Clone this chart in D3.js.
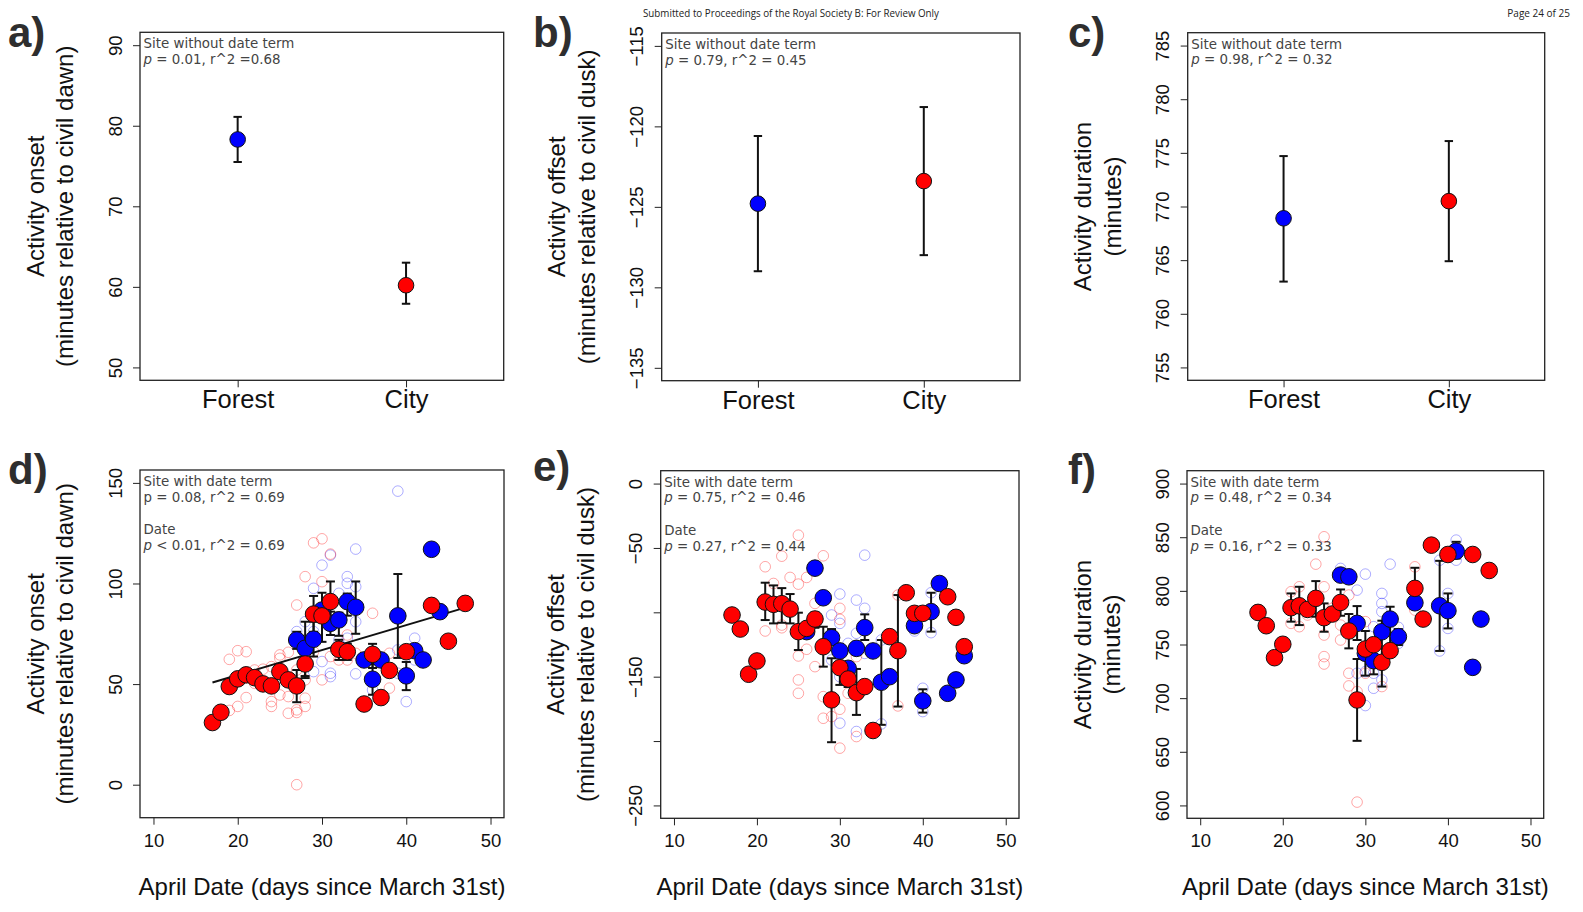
<!DOCTYPE html>
<html>
<head>
<meta charset="utf-8">
<script src="https://cdn.jsdelivr.net/npm/d3@7"></script>
<style>
  body { margin: 0; background: #fff; }
  svg { display: block; }
</style>
</head>
<body>
<svg id="fig" width="1583" height="912"></svg>
<script>
// ---------- data ----------
const sites = ["Forest", "City"];

// panels a-c : site means (+/- error)
const onsetSiteMean = [78.3, 60.2];
const onsetSiteLo = [75.5, 57.9];
const onsetSiteHi = [81.1, 63.0];
const offsetSiteMean = [-124.8, -123.4];
const offsetSiteLo = [-129.0, -128.0];
const offsetSiteHi = [-120.6, -118.8];
const durationSiteMean = [768.9, 770.5];
const durationSiteLo = [763.0, 764.9];
const durationSiteHi = [774.7, 776.1];

// panel d : activity onset by date  [day, minutes]
const onsetForestMean = [[27,71.9],[28,67.8],[29,72.3],[30,86.8],[31,80.2],[32,81.9],[33,91.0],[34,88.2],[35,62.0],[36,52.4],[37,62.0],[39,83.9],[40,54.1],[41,66.6],[42,62.0],[43,117.0],[44,86.0]];
const onsetCityMean = [[17,30.9],[18,36.0],[19,48.8],[20,52.6],[21,54.6],[22,53.2],[23,50.1],[24,49.1],[25,56.2],[26,52.1],[27,49.1],[28,60.0],[29,84.8],[30,83.9],[31,91.0],[32,67.3],[33,66.1],[35,40.1],[36,64.8],[37,43.3],[38,56.8],[40,66.1],[43,89.1],[45,71.3],[47,90.1]];
const onsetForestBars = [[27,67.5,76],[28,54,81],[29,63.7,81],[30,71,95.4],[31,74.4,86],[32,74,85.5],[33,84,95],[34,75,101],[36,44.7,60],[39,63,104.7],[40,47,61]];
const onsetCityBars = [[27,41,57],[28,53,66],[29,76,93.8],[31,80,101],[32,62,72],[33,62,70],[36,58,70]];
const onsetForestRaw = [[39,145.9],[31,114.1],[30,109.1],[29,97.6],[33,103.4],[33,100.1],[34,117.1],[34,98.4],[34,81.0],[27,76.1],[28,81.0],[29,56.2],[30,61.2],[31,55.4],[31,53.7],[32,71.9],[33,72.8],[34,55.1],[36,47.1],[40,41.3],[41,72.8],[39,67.0],[39,55.4],[41,62.0],[28,63.7],[29,76.1],[32,95.1]];
const onsetCityRaw = [[19,62.3],[20,66.6],[21,66.1],[19,36.9],[20,38.9],[21,43.3],[22,57.0],[22,50.4],[23,57.4],[24,58.7],[24,41.3],[24,38.9],[25,64.5],[25,62.8],[25,44.6],[26,65.8],[26,35.5],[26,43.8],[27,89.3],[27,57.0],[27,37.2],[27,35.9],[27,0],[28,103.4],[28,43.0],[28,38.9],[28,52.1],[29,120.2],[30,122.2],[31,114.6],[30,100.9],[30,52.1],[32,62.0],[33,74.4],[33,62.0],[36,85.2],[38,65.3],[38,48.0],[31,63.7],[29,66.1],[34,65.3]];
const onsetFit = [[17,50.8],[47,88.0]];

// panel e : activity offset by date
const offsetForestMean = [[26,-115.0],[27,-65.7],[28,-88.7],[29,-119.7],[30,-130.0],[31,-143.5],[32,-128.0],[33,-111.9],[34,-130.0],[35,-154.3],[36,-150.0],[39,-110.4],[40,-168.8],[41,-99.5],[42,-77.6],[43,-162.9],[44,-152.5],[45,-133.7]];
const offsetCityMean = [[17,-102.1],[18,-113.0],[19,-148.1],[20,-137.8],[21,-92.0],[22,-93.8],[23,-93.3],[24,-97.5],[25,-115.0],[26,-112.5],[27,-105.2],[28,-126.7],[29,-168.0],[30,-143.0],[31,-151.8],[32,-162.4],[33,-157.7],[34,-191.8],[36,-118.9],[37,-129.8],[38,-84.8],[39,-100.8],[40,-100.8],[43,-87.9],[44,-103.9],[45,-126.7]];
const offsetForestBars = [[29,-125,-113],[33,-121.5,-101.6],[35,-187.4,-121.5],[40,-177.9,-159.8],[41,-115,-84.8]];
const offsetCityBars = [[21,-106,-77],[22,-108.6,-79.1],[23,-108.1,-81.2],[24,-108.6,-85.8],[25,-129.3,-100.3],[26,-118,-108],[27,-112,-100],[28,-142.2,-111.2],[29,-200.9,-135.7],[30,-156.4,-128],[31,-158,-145],[32,-179.7,-144],[37,-173.2,-86.6]];
const offsetForestRaw = [[33,-55.6],[30,-85.8],[32,-90.5],[33,-96.9],[29,-102.1],[30,-108.6],[32,-116.3],[31,-124.1],[33,-131.9],[35,-121.5],[29,-137.0],[30,-150.0],[30,-186.1],[32,-192.6],[35,-186.7],[40,-159.0],[40,-177.1],[41,-84.8],[41,-115.8],[39,-114.5]];
const offsetCityRaw = [[21,-64.6],[23,-56.4],[25,-40.1],[28,-56.1],[24,-72.9],[25,-78.1],[26,-72.9],[22,-77.6],[21,-114.5],[23,-109.9],[23,-112.0],[25,-133.9],[25,-152.5],[25,-162.9],[26,-128.7],[27,-93.1],[27,-142.2],[28,-165.5],[28,-182.3],[29,-181.0],[30,-96.9],[30,-175.3],[30,-205.5],[31,-162.9],[32,-196.5],[32,-134.4],[37,-86.6],[37,-172.7],[30,-105.5]];

// panel f : activity duration by date
const durationForestMean = [[27,814.7],[28,813.1],[29,769.7],[30,741.8],[31,734.9],[32,761.9],[33,773.7],[34,757.3],[36,788.9],[39,786.1],[40,781.5],[41,837.0],[43,728.7],[44,773.7]];
const durationCityMean = [[17,779.9],[18,767.5],[19,737.7],[20,750.2],[21,784.3],[22,786.1],[23,782.7],[24,793.0],[25,775.0],[26,778.4],[27,789.2],[28,762.6],[29,698.3],[30,745.8],[31,749.8],[32,733.4],[33,744.3],[36,802.3],[37,773.7],[38,842.6],[40,833.9],[43,833.9],[45,819.0]];
const durationForestBars = [[29,754.2,785.8],[31,722.2,755.7],[34,749.5,764.4],[39,744,828],[40,765,797.6],[41,830.2,845.7]];
const durationCityBars = [[21,771.3,797.6],[22,768.1,803.8],[24,775.9,809.1],[25,761.9,788.3],[27,776.8,801.3],[28,746.4,778.4],[29,660.2,736.5],[30,721,762.6],[32,710.8,772.2],[33,748,785.2],[36,783.7,821.5]];
const durationForestRaw = [[27,820.9],[29,800.7],[30,815.6],[33,824.9],[32,797.6],[32,788.3],[32,780.6],[31,766.6],[34,766.0],[34,751.1],[30,724.7],[30,693.1],[31,709.2],[32,717.0],[31,723.2],[39,828.6],[39,744.0],[40,797.6],[40,765.0],[41,847.3],[41,828.6],[29,723.2]];
const durationCityRaw = [[25,850.4],[24,824.9],[21,799.2],[22,803.8],[25,803.8],[21,769.7],[22,766.6],[23,777.5],[25,758.8],[25,738.7],[25,731.8],[27,754.2],[27,768.1],[28,723.2],[28,711.4],[29,603.1],[29,706.1],[30,771.3],[32,710.8],[36,822.4],[36,782.1],[28,796.1],[30,723.2],[26,783.7]];

// axis ticks
const onsetSiteTicks = [50, 60, 70, 80, 90];
const offsetSiteTicks = [-135, -130, -125, -120, -115];
const durationSiteTicks = [755, 760, 765, 770, 775, 780, 785];
const dateTicks = [10, 20, 30, 40, 50];
const onsetDateTicks = [0, 50, 100, 150];
const offsetDateTicks = [0, -50, -100, -150, -200, -250];
const offsetDateLabels = [0, -50, -150, -250];
const durationDateTicks = [600, 650, 700, 750, 800, 850, 900];

// ---------- drawing ----------
const BLUE = "#0000ff", RED = "#ff0000";
const SANS = "'Liberation Sans', Arial, sans-serif";
const NOTE = "'DejaVu Sans', Verdana, sans-serif";
const svg = d3.select("#fig");

// R-style 4% axis extension
const ext = ([a, b]) => [a - 0.04 * (b - a), b + 0.04 * (b - a)];

function frame(g, L) {
  g.append("rect")
    .attr("x", L.x0).attr("y", L.y0)
    .attr("width", L.x1 - L.x0).attr("height", L.y1 - L.y0)
    .attr("fill", "none").attr("stroke", "#222").attr("stroke-width", 1.3);
}

function yAxis(g, L, y, ticks, shown) {
  const ax = d3.axisLeft(y).tickValues(ticks).tickSize(7).tickSizeOuter(0)
    .tickFormat(d => (!shown || shown.includes(d)) ? d3.format("d")(d) : "");
  const ga = g.append("g").attr("transform", `translate(${L.x0},0)`).call(ax);
  ga.select(".domain").remove();
  ga.selectAll("line").attr("stroke", "#222");
  ga.selectAll("text")
    .attr("transform", "rotate(-90)")
    .attr("x", 0).attr("y", -18.5).attr("dy", null)
    .attr("text-anchor", "middle")
    .style("font", `18.5px ${SANS}`).attr("fill", "#111");
}

function xAxis(g, L, x, ticks, fmt, size, gap) {
  const ax = d3.axisBottom(x).tickValues(ticks).tickSize(7).tickSizeOuter(0).tickFormat(fmt);
  const ga = g.append("g").attr("transform", `translate(0,${L.y1})`).call(ax);
  ga.select(".domain").remove();
  ga.selectAll("line").attr("stroke", "#222");
  ga.selectAll("text").attr("y", gap).attr("dy", null)
    .style("font", `${size}px ${SANS}`).attr("fill", "#111");
}

function yTitle(g, L, lines) {
  const cy = (L.y0 + L.y1) / 2;
  [L.x0 - 96.5, L.x0 - 67].forEach((bx, i) => {
    g.append("text")
      .attr("transform", `translate(${bx},${cy}) rotate(-90)`)
      .attr("text-anchor", "middle")
      .style("font", `24px ${SANS}`).attr("fill", "#111")
      .text(lines[i]);
  });
}

function note(g, L, lines) {
  const offs = [16, 31.7, 64, 80];
  lines.forEach((ln, i) => {
    const t = g.append("text").attr("x", L.x0 + 3.5).attr("y", L.y0 + offs[i])
      .style("font", `13.4px ${NOTE}`).attr("fill", "#444");
    if (ln.p) {
      t.append("tspan").style("font-style", ln.italic ? "italic" : "normal").text("p");
      t.append("tspan").text(ln.p);
    } else {
      t.text(ln.t);
    }
  });
}

function panelLabel(x, y, s) {
  svg.append("text").attr("x", x).attr("y", y)
    .style("font", `bold 42px ${SANS}`).attr("fill", "#2e2e2e").text(s);
}

function errBars(g, data, x, y, cap) {
  data.forEach(([k, lo, hi]) => {
    const cx = x(k);
    g.append("line").attr("x1", cx).attr("x2", cx).attr("y1", y(lo)).attr("y2", y(hi));
    [lo, hi].forEach(v => g.append("line")
      .attr("x1", cx - cap).attr("x2", cx + cap).attr("y1", y(v)).attr("y2", y(v)));
  });
  g.attr("stroke", "#111").attr("stroke-width", 2);
}

// ---- site panels (a-c) ----
function sitePanel(L, yl, ticks, mean, lo, hi, title, noteLines) {
  const g = svg.append("g");
  const x = d3.scaleLinear().domain(ext([0.5, 2.5])).range([L.x0, L.x1]);
  const y = d3.scaleLinear().domain(ext(yl)).range([L.y1, L.y0]);
  frame(g, L);
  yAxis(g, L, y, ticks);
  xAxis(g, L, x, [1, 2], d => sites[d - 1], 25.5, 28);
  yTitle(g, L, title);
  note(g, L, noteLines);
  const rows = mean.map((m, i) => [i + 1, lo[i], hi[i]]);
  errBars(g.append("g"), rows, x, y, 4.2);
  g.selectAll("circle.m").data(mean).join("circle")
    .attr("cx", (d, i) => x(i + 1)).attr("cy", d => y(d)).attr("r", 7.8)
    .attr("fill", (d, i) => i === 0 ? BLUE : RED)
    .attr("stroke", "#111").attr("stroke-width", 1);
}

// ---- date panels (d-f) ----
function datePanel(L, yl, ticks, shown, sets, title, noteLines, fit) {
  const g = svg.append("g");
  const x = d3.scaleLinear().domain(ext([10, 50])).range([L.x0, L.x1]);
  const y = d3.scaleLinear().domain(ext(yl)).range([L.y1, L.y0]);
  frame(g, L);
  yAxis(g, L, y, ticks, shown);
  xAxis(g, L, x, dateTicks, d3.format("d"), 18.5, 29);
  yTitle(g, L, title);
  note(g, L, noteLines);
  g.append("text").attr("x", (L.x0 + L.x1) / 2).attr("y", 895)
    .attr("text-anchor", "middle").style("font", `24px ${SANS}`).attr("fill", "#111")
    .text("April Date (days since March 31st)");

  const raw = g.append("g").attr("fill", "none").attr("stroke-width", 1);
  raw.selectAll("circle.b").data(sets.forestRaw).join("circle")
    .attr("cx", d => x(d[0])).attr("cy", d => y(d[1])).attr("r", 5.3)
    .attr("stroke", "rgba(0,0,255,0.32)");
  raw.selectAll("circle.r").data(sets.cityRaw).join("circle")
    .attr("cx", d => x(d[0])).attr("cy", d => y(d[1])).attr("r", 5.3)
    .attr("stroke", "rgba(255,0,0,0.35)");

  if (fit) {
    g.append("path").attr("d", d3.line().x(d => x(d[0])).y(d => y(d[1]))(fit))
      .attr("stroke", "#111").attr("stroke-width", 2).attr("fill", "none");
  }

  errBars(g.append("g"), sets.forestBars, x, y, 4.5);
  errBars(g.append("g"), sets.cityBars, x, y, 4.5);

  [[sets.forestMean, BLUE], [sets.cityMean, RED]].forEach(([pts, col]) => {
    g.append("g").selectAll("circle").data(pts).join("circle")
      .attr("cx", d => x(d[0])).attr("cy", d => y(d[1])).attr("r", 8.3)
      .attr("fill", col).attr("stroke", "#111").attr("stroke-width", 1);
  });
}

const L = {
  a: { x0: 140, x1: 503.7, y0: 32.3, y1: 380.3 },
  b: { x0: 661.7, x1: 1020, y0: 33, y1: 380.7 },
  c: { x0: 1187.7, x1: 1544.7, y0: 32.7, y1: 380.3 },
  d: { x0: 140, x1: 504, y0: 470, y1: 817.7 },
  e: { x0: 660.7, x1: 1019, y0: 470.7, y1: 818.3 },
  f: { x0: 1187, x1: 1543.7, y0: 470.7, y1: 818.3 }
};

const onsetTitle = ["Activity onset", "(minutes relative to civil dawn)"];
const offsetTitle = ["Activity offset", "(minutes relative to civil dusk)"];
const durationTitle = ["Activity duration", "(minutes)"];

sitePanel(L.a, [50, 90], onsetSiteTicks, onsetSiteMean, onsetSiteLo, onsetSiteHi, onsetTitle,
  [{ t: "Site without date term" }, { p: " = 0.01, r^2 =0.68", italic: true }]);
sitePanel(L.b, [-135, -115], offsetSiteTicks, offsetSiteMean, offsetSiteLo, offsetSiteHi, offsetTitle,
  [{ t: "Site without date term" }, { p: " = 0.79, r^2 = 0.45", italic: true }]);
sitePanel(L.c, [755, 785], durationSiteTicks, durationSiteMean, durationSiteLo, durationSiteHi, durationTitle,
  [{ t: "Site without date term" }, { p: " = 0.98, r^2 = 0.32", italic: true }]);

datePanel(L.d, [-10, 150], onsetDateTicks, null,
  { forestMean: onsetForestMean, cityMean: onsetCityMean, forestBars: onsetForestBars, cityBars: onsetCityBars, forestRaw: onsetForestRaw, cityRaw: onsetCityRaw },
  onsetTitle,
  [{ t: "Site with date term" }, { p: " = 0.08, r^2 = 0.69", italic: false }, { t: "Date" }, { p: " < 0.01, r^2 = 0.69", italic: true }],
  onsetFit);
datePanel(L.e, [-250, 0], offsetDateTicks, offsetDateLabels,
  { forestMean: offsetForestMean, cityMean: offsetCityMean, forestBars: offsetForestBars, cityBars: offsetCityBars, forestRaw: offsetForestRaw, cityRaw: offsetCityRaw },
  offsetTitle,
  [{ t: "Site with date term" }, { p: " = 0.75, r^2 = 0.46", italic: true }, { t: "Date" }, { p: " = 0.27, r^2 = 0.44", italic: true }],
  null);
datePanel(L.f, [600, 900], durationDateTicks, null,
  { forestMean: durationForestMean, cityMean: durationCityMean, forestBars: durationForestBars, cityBars: durationCityBars, forestRaw: durationForestRaw, cityRaw: durationCityRaw },
  durationTitle,
  [{ t: "Site with date term" }, { p: " = 0.48, r^2 = 0.34", italic: true }, { t: "Date" }, { p: " = 0.16, r^2 = 0.33", italic: true }],
  null);

panelLabel(8, 47, "a)");
panelLabel(533, 47, "b)");
panelLabel(1068, 47, "c)");
panelLabel(8, 484, "d)");
panelLabel(533, 481, "e)");
panelLabel(1068, 484, "f)");

svg.append("text").attr("x", 791).attr("y", 17).attr("text-anchor", "middle")
  .attr("textLength", 296).attr("lengthAdjust", "spacingAndGlyphs")
  .style("font", "10px 'Open Sans', sans-serif").attr("fill", "#222")
  .text("Submitted to Proceedings of the Royal Society B: For Review Only");
svg.append("text").attr("x", 1570).attr("y", 17).attr("text-anchor", "end")
  .style("font", "10px 'Open Sans', sans-serif").attr("fill", "#222")
  .text("Page 24 of 25");
</script>
</body>
</html>
